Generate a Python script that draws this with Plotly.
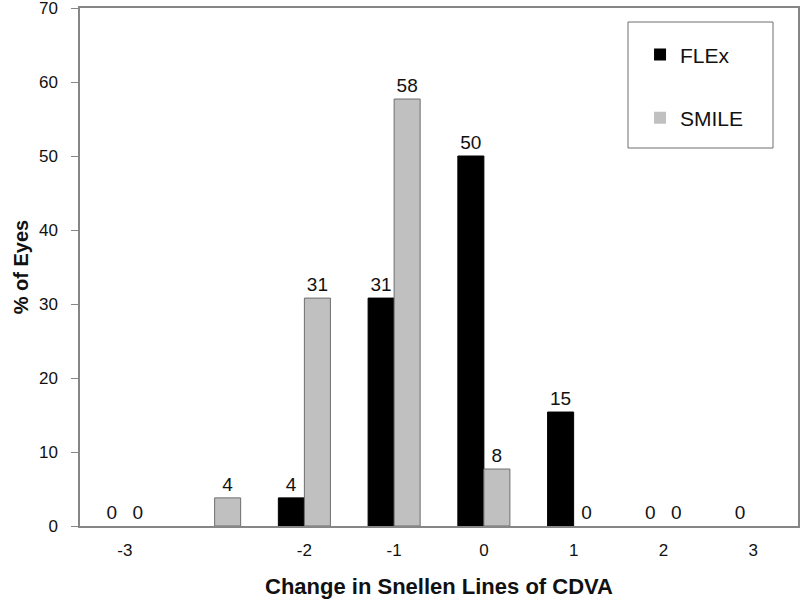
import plotly.graph_objects as go

categories = ["-3", "", "-2", "-1", "0", "1", "2", "3"]
flex = [0, None, 3.8, 30.8, 50.0, 15.4, 0, 0]
smile = [0, 3.8, 30.8, 57.7, 7.7, 0, 0, None]
y_ticks = [0, 10, 20, 30, 40, 50, 60, 70]

xpos = list(range(len(categories)))
font = "Liberation Sans, Arial, sans-serif"

def labels(vals):
    return ["" if v is None else f"{v:.0f}" for v in vals]

def edge_widths(vals):
    return [0 if (v is None or v == 0) else 1 for v in vals]

fig = go.Figure()
fig.add_trace(go.Bar(
    x=xpos, y=flex, name="FLEx", legendgroup="a",
    marker=dict(color="#000000", line=dict(color="#000000", width=edge_widths(flex))),
    text=labels(flex), textposition="outside", cliponaxis=False,
    textfont=dict(family=font, size=19, color="#111111"),
))
fig.add_trace(go.Bar(
    x=xpos, y=smile, name="SMILE", legendgroup="b",
    marker=dict(color="#c0c0c0", line=dict(color="#6e6e6e", width=edge_widths(smile))),
    text=labels(smile), textposition="outside", cliponaxis=False,
    textfont=dict(family=font, size=19, color="#111111"),
))

fig.update_layout(
    width=800, height=601,
    margin=dict(l=80, r=2, t=8, b=75, autoexpand=False),
    paper_bgcolor="white", plot_bgcolor="white",
    barmode="group", bargap=0.42, bargroupgap=0,
    font=dict(family=font, size=17, color="#111111"),
    showlegend=True,
    legend=dict(
        x=0.78, y=0.949, xanchor="left", yanchor="top",
        bgcolor="rgba(0,0,0,0)", borderwidth=0,
        traceorder="grouped", tracegroupgap=33,
        font=dict(family=font, size=21, color="#111111"),
        itemwidth=30,
    ),
    shapes=[dict(
        type="rect", xref="paper", yref="paper",
        x0=(628 - 80) / 718, x1=(773 - 80) / 718,
        y0=(526 - 148) / 518, y1=(526 - 22) / 518,
        line=dict(color="#6e6e6e", width=1), fillcolor="rgba(0,0,0,0)",
        layer="below",
    )],
)

fig.update_xaxes(
    range=[-0.5, len(categories) - 0.5], automargin=False,
    tickmode="array", tickvals=xpos, ticktext=categories,
    showline=True, linecolor="#868686", linewidth=1.5, mirror=True,
    ticks="", showgrid=False, zeroline=False,
    ticklabelstandoff=8, ticklabeloverflow="allow",
    tickfont=dict(family=font, size=17, color="#111111"),
    title=dict(text="<b>Change in Snellen Lines of CDVA</b>", standoff=19,
               font=dict(family=font, size=22, color="#111111")),
)
fig.update_yaxes(
    range=[0, 70], tickmode="array", tickvals=y_ticks, automargin=False,
    showline=True, linecolor="#868686", linewidth=1.5, mirror=True,
    ticks="outside", ticklen=7, tickcolor="#868686",
    showgrid=False, zeroline=False,
    ticklabelstandoff=10, ticklabeloverflow="allow",
    tickfont=dict(family=font, size=17, color="#111111"),
    title=dict(text="<b>% of Eyes</b>", standoff=5,
               font=dict(family=font, size=20, color="#111111")),
)

fig.write_html("out.html", config={"displayModeBar": False},
               post_script="document.body.style.margin='0';")
